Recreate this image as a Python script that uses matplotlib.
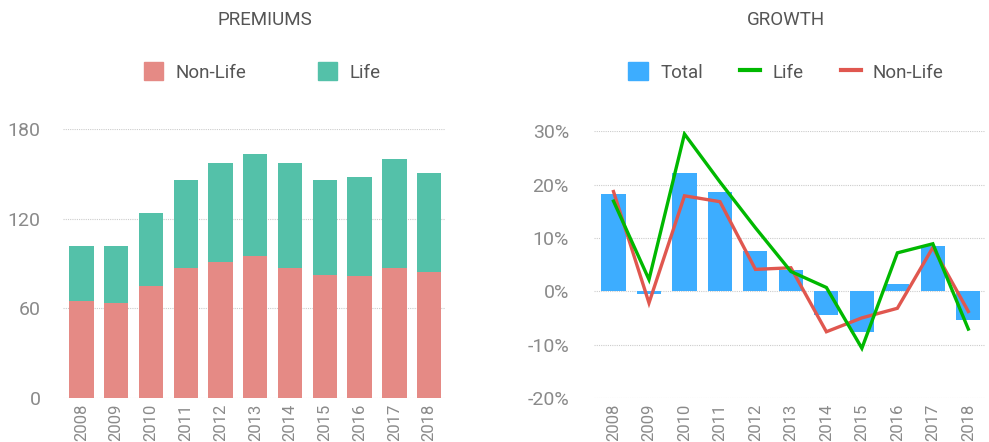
import numpy as np
import matplotlib
matplotlib.use("Agg")
import matplotlib.pyplot as plt
from matplotlib.patches import Patch
from matplotlib.lines import Line2D

# ---------------------------------------------------------------------------
# Data
# ---------------------------------------------------------------------------
years = ["2008", "2009", "2010", "2011", "2012", "2013",
         "2014", "2015", "2016", "2017", "2018"]

# Premiums (stacked)
non_life_prem = [65.3, 63.5, 74.9, 87.4, 90.8, 95.3, 87.4, 82.5, 81.4, 87.4, 84.3]
life_prem = [36.2, 38.0, 49.2, 58.8, 66.4, 68.2, 69.8, 63.7, 66.4, 72.7, 66.4]

# Growth (%)
total_growth = [18.3, -0.5, 22.2, 18.7, 7.5, 4.0, -4.5, -7.6, 1.4, 8.5, -5.4]
life_growth = [16.9, 2.2, 29.5, 20.5, 11.9, 3.7, 0.7, -10.7, 7.2, 8.9, -7.1]
non_life_growth = [18.7, -2.2, 17.9, 16.8, 4.1, 4.4, -7.6, -5.0, -3.2, 8.2, -3.8]

prem_ticks = [0, 60, 120, 180]
growth_ticks = [-20, -10, 0, 10, 20, 30]

# ---------------------------------------------------------------------------
# Style
# ---------------------------------------------------------------------------
C_NONLIFE_BAR = "#E58A85"
C_LIFE_BAR = "#54C1A9"
C_TOTAL = "#3DADFF"
C_LIFE_LINE = "#00B800"
C_NONLIFE_LINE = "#E0574F"
C_TICK = "#8A8A8A"
C_TEXT = "#555555"
C_GRID = "#CCCCCC"

plt.rcParams["font.family"] = ["Roboto", "DejaVu Sans"]


def style_axes(ax):
    for s in ax.spines.values():
        s.set_visible(False)
    ax.tick_params(length=0, colors=C_TICK)
    ax.grid(axis="y", color=C_GRID, linestyle=(0, (1, 1)), linewidth=0.8)
    ax.set_axisbelow(True)
    for lbl in ax.get_yticklabels():
        lbl.set_fontsize(14)
    for lbl in ax.get_xticklabels():
        lbl.set_fontsize(12)
        lbl.set_rotation(90)


fig = plt.figure(figsize=(9.89, 4.42), dpi=100)
x = np.arange(len(years))

# ── Premiums ────────────────────────────────────────────────────────────────
ax1 = fig.add_axes([0.0637, 0.0995, 0.386, 0.608])
ax1.bar(x, non_life_prem, width=0.7, color=C_NONLIFE_BAR)
ax1.bar(x, life_prem, bottom=non_life_prem, width=0.7, color=C_LIFE_BAR)
ax1.set_xlim(-0.53, 10.45)
ax1.set_ylim(0, 180)
ax1.set_yticks(prem_ticks)
ax1.set_xticks(x)
ax1.set_xticklabels(years)
ax1.tick_params(axis="y", pad=16)
ax1.tick_params(axis="x", pad=4)
style_axes(ax1)

fig.text(265 / 989, 1 - 20 / 442, "PREMIUMS", ha="center", va="center",
         fontsize=13.5, color=C_TEXT)
fig.legend(handles=[Patch(color=C_NONLIFE_BAR, label="Non-Life"),
                    Patch(color=C_LIFE_BAR, label="Life")],
           loc="center", bbox_to_anchor=(262 / 989, 1 - 72 / 442), ncol=2,
           frameon=False, fontsize=13.5, labelcolor=C_TEXT,
           handlelength=1.05, handleheight=1.05, handletextpad=0.65,
           columnspacing=3.8)

# ── Growth ──────────────────────────────────────────────────────────────────
ax2 = fig.add_axes([0.6006, 0.0999, 0.395, 0.603])
ax2.bar(x, total_growth, width=0.68, color=C_TOTAL)
ax2.plot(x, non_life_growth, color=C_NONLIFE_LINE, lw=2.4, solid_joinstyle="miter")
ax2.plot(x, life_growth, color=C_LIFE_LINE, lw=2.4, solid_joinstyle="miter")
ax2.set_xlim(-0.55, 10.46)
ax2.set_ylim(-20, 30)
ax2.set_yticks(growth_ticks)
ax2.set_yticklabels([f"{t}%" for t in growth_ticks])
ax2.set_xticks(x)
ax2.set_xticklabels(years)
ax2.tick_params(axis="y", pad=18)
ax2.tick_params(axis="x", pad=4)
style_axes(ax2)

fig.text(786 / 989, 1 - 20 / 442, "GROWTH", ha="center", va="center",
         fontsize=13.5, color=C_TEXT)
fig.legend(handles=[Patch(color=C_TOTAL, label="Total"),
                    Line2D([], [], color=C_LIFE_LINE, lw=3, label="Life"),
                    Line2D([], [], color=C_NONLIFE_LINE, lw=3, label="Non-Life")],
           loc="center", bbox_to_anchor=(786 / 989, 1 - 72 / 442), ncol=3,
           frameon=False, fontsize=13.5, labelcolor=C_TEXT,
           handlelength=1.05, handleheight=1.05, handletextpad=0.65,
           columnspacing=2.0)

fig.savefig("out.png", dpi=100)
